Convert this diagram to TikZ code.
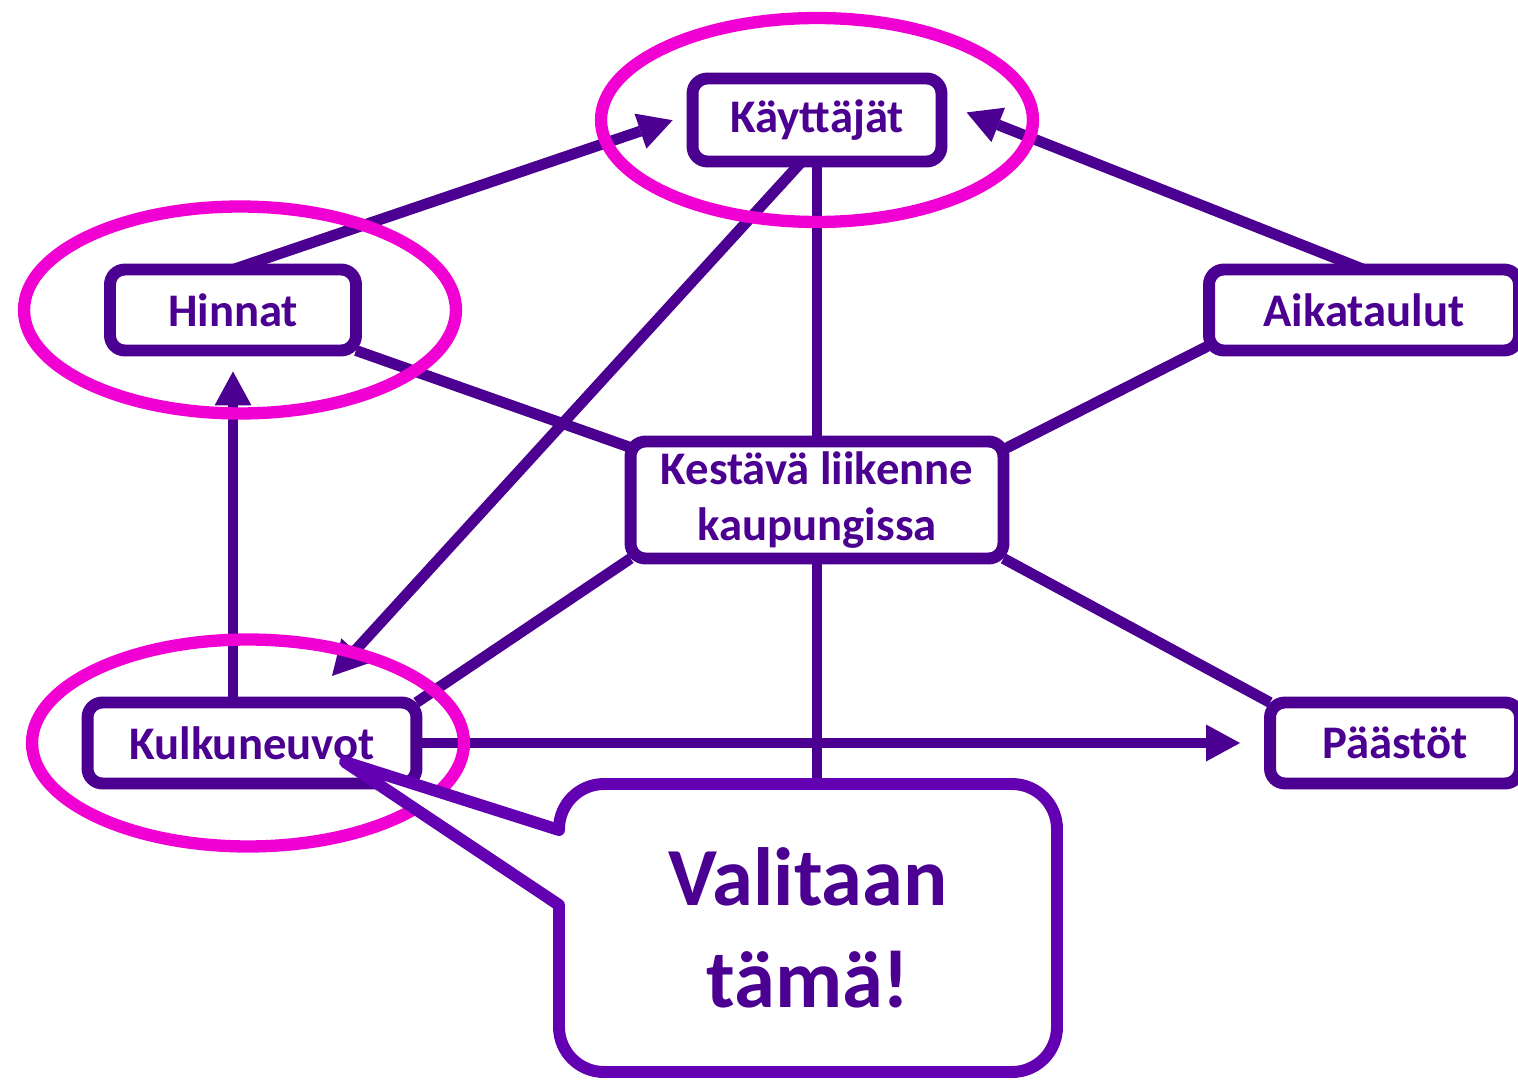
\documentclass[tikz,border=0pt]{standalone}
\usepackage{fontspec}
\setmainfont{Carlito}
\usetikzlibrary{arrows.meta, positioning, calc, backgrounds}

\definecolor{deeppurple}{RGB}{75,0,145}
\definecolor{calloutpurple}{RGB}{98,0,178}
\definecolor{markmagenta}{RGB}{240,0,210}

\tikzset{
    box/.style={rectangle, draw=deeppurple, line width=6.8pt, rounded corners=0.3cm, fill=white, text=deeppurple, font=\fontsize{26.6}{32.3}\selectfont\bfseries, align=center, minimum height=1.62cm, inner sep=0pt, outer sep=0pt},
    link/.style={draw=deeppurple, line width=6.2pt},
    highlight/.style={draw=markmagenta, line width=7pt},
    callout line/.style={draw=calloutpurple, fill=white, line width=6.8pt, line join=round},
    callout text/.style={text=deeppurple, font=\fontsize{47}{58}\selectfont\bfseries, align=center, inner sep=0pt, outer sep=0pt}
}

\begin{document}
\begin{tikzpicture}[x=0.02cm, y=-0.02cm, >={Triangle[length=0.68cm, width=0.74cm, line width=0pt]}]
                \useasboundingbox (0,0) rectangle (1518,1081);
                % Nodes
                \node (kayttajat) [box, minimum width=4.98cm, minimum height=1.66cm] at (817,120) {Käyttäjät};
                \node (hinnat) [box, minimum width=4.92cm] at (233,310) {Hinnat};
                \node (aikataulut) [box, minimum width=6.2cm] at (1364,310) {Aikataulut};
                \node (kestava) [box, minimum width=7.46cm, minimum height=2.34cm] at (817,500) {Kestävä liikenne\\kaupungissa};
                \node (kulkuneuvot) [box, minimum width=6.58cm] at (252,743) {Kulkuneuvot};
                \node (paastot) [box, minimum width=5.0cm] at (1395,743) {Päästöt};

                % Highlights
                \draw[highlight] (kayttajat.center) ellipse [x radius=4.32cm, y radius=2.04cm];
                \draw[highlight] ($(hinnat.center)+(7,0)$) ellipse [x radius=4.32cm, y radius=2.07cm];
                \draw[highlight] ($(kulkuneuvot.center)+(-4,0)$) ellipse [x radius=4.32cm, y radius=2.07cm];

                % Callout
                \coordinate (tip) at ($(kulkuneuvot.center)+(93,19)$);
                \draw[callout line] (tip) -- (559,830) [rounded corners=0.9cm] -- (559,784) -- (1057,784) -- (1057,1072) -- (559,1072) [sharp corners] -- (559,905) -- cycle;
                \node (valitaan) [callout text, minimum width=9.96cm, minimum height=5.76cm] at (808,928) {Valitaan\\tämä!};

                % Arrows
                \begin{scope}[on background layer]
                \draw[link, ->, shorten >=0.42cm] (hinnat.north) -- (kayttajat.177);
                \draw[link, ->, shorten >=0.54cm] (aikataulut.north) -- (kayttajat.8);
                \draw[link, ->, shorten >=0.72cm] (kayttajat.-110) -- (kulkuneuvot.36);
                \draw[link, ->, shorten >=0.42cm] (kulkuneuvot.north -| hinnat.south) -- (hinnat.south);
                \draw[link, ->, shorten >=0.6cm] (kulkuneuvot.east) -- (paastot.west);
                \draw[link] (kayttajat.south) -- (kayttajat.south |- valitaan.north);
                \draw[link] (hinnat.south east) -- ($(kestava.north west)+(0,6)$);
                \draw[link] ($(aikataulut.south west)+(0,-5)$) -- ($(kestava.north east)+(0,8)$);
                \draw[link] (kestava.south west) -- (kulkuneuvot.north east);
                \draw[link] (kestava.south east) -- (paastot.north west);
                \end{scope}
\end{tikzpicture}
\end{document}
